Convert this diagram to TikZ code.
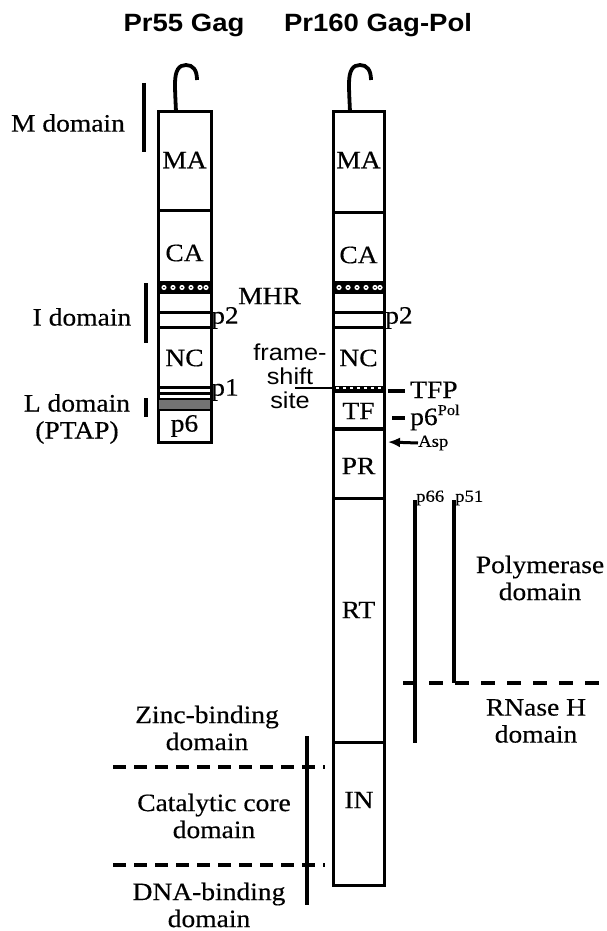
\documentclass[tikz,border=0pt]{standalone}
\usepackage{fontspec}
\setmainfont{Liberation Serif}[FakeStretch=1.1,FakeBold=0.4]
\newfontfamily\sansf{Liberation Sans}[FakeStretch=1.1]
\usetikzlibrary{arrows.meta}
\tikzset{
  lbl/.style={font=\fontsize{25}{27}\selectfont, inner sep=0pt, align=center},
  sml/.style={font=\fontsize{17}{19}\selectfont, inner sep=0pt},
  ttl/.style={font=\sansf\bfseries\fontsize{25}{27}\selectfont, inner sep=0pt},
  fss/.style={font=\sansf\fontsize{23}{24}\selectfont, inner sep=0pt, align=center},
  pbox/.style={draw, line width=3pt, inner sep=0pt, rectangle},
  divl/.style={line width=3pt},
  bar/.style={line width=3.2pt},
  hook/.style={line width=3.8pt},
  dsh/.style={line width=3.2pt, dash pattern=on 13pt off 8pt},
  dshr/.style={line width=3.2pt, dash pattern=on 14pt off 12pt},
}
\begin{document}
\begin{tikzpicture}[x=1pt,y=-1pt]
\useasboundingbox (0,0) rectangle (606,931);
% titles
\node[ttl] (t1) at (184,25) {Pr55 Gag};
\node[ttl] (t2) at (378,25) {Pr160 Gag-Pol};
% main boxes
\node[pbox, minimum width=53pt, minimum height=330pt] (gag) at (184.5,277) {};
\node[pbox, minimum width=51pt, minimum height=773pt] (gp) at (358.5,498.5) {};
% hooks
\draw[hook] (176,112) .. controls (175.5,100) and (175,92) .. (175,84) .. controls (175,70) and (179,65) .. (186,65) .. controls (193,65) and (197,70) .. (197,80);
\draw[hook] (350,112) .. controls (349.5,100) and (349,92) .. (349,84) .. controls (349,70) and (353,65) .. (360,65) .. controls (367,65) and (371,70) .. (371,80);
% Gag dividers
\draw[divl] (158,210) -- (211,210);
\fill (158,281) rectangle (211,294);
\foreach \x in {164,173,182,191,200,206}{\fill[white] (\x,287.5) circle (2.6pt); \fill (\x,287.5) circle (0.8pt);}
\draw[divl] (158,312) -- (211,312);
\draw[divl] (158,327) -- (211,327);
\draw[divl] (158,387) -- (211,387);
\draw[divl] (158,393) -- (211,393);
\filldraw[fill=black!55, line width=2.4pt] (158,399) rectangle (211,410);
% Gag-Pol dividers
\draw[divl] (333,212) -- (384,212);
\fill (333,281) rectangle (384,294);
\foreach \x in {339,348,357,366,375,380}{\fill[white] (\x,287.5) circle (2.6pt); \fill (\x,287.5) circle (0.8pt);}
\draw[divl] (333,312) -- (384,312);
\draw[divl] (333,327) -- (384,327);
\fill (333,386) rectangle (384,393);
\draw[white, line width=2pt, dash pattern=on 3pt off 4pt] (336,388) -- (382,388);
\draw[line width=3.4pt] (333,429) -- (384,429);
\draw[divl] (333,498) -- (384,498);
\draw[divl] (333,742) -- (384,742);
% box labels Gag
\node[lbl] (ma1) at (184.5,160) {MA};
\node[lbl] (ca1) at (184.5,253) {CA};
\node[lbl] (nc1) at (184.5,358) {NC};
\node[lbl] (p61) at (184.5,426) {p6};
% box labels Gag-Pol
\node[lbl] (ma2) at (358.5,160) {MA};
\node[lbl] (ca2) at (358.5,255) {CA};
\node[lbl] (nc2) at (358.5,358) {NC};
\node[lbl] (tf) at (358.5,411) {TF};
\node[lbl] (pr) at (358.5,466) {PR};
\node[lbl] (rt) at (358.5,610) {RT};
\node[lbl] (in) at (359,800) {IN};
% side labels
\node[lbl] (mhr) at (238,296) [anchor=west] {MHR};
\node[lbl] (p2a) at (211,318) [anchor=west] {p2};
\node[lbl] (p1a) at (211,390) [anchor=west] {p1};
\node[lbl] (p2b) at (385,318) [anchor=west] {p2};
% left domain labels and bars
\node[lbl] (mdom) at (68,123) {M domain};
\node[lbl] (idom) at (82,317) {I domain};
\node[lbl] (ldom) at (77,419) {L domain\\(PTAP)};
\coordinate (mb1) at (144,83); \coordinate (mb2) at (144,152);
\coordinate (ib1) at (146,283); \coordinate (ib2) at (146,343);
\coordinate (lb1) at (146,398); \coordinate (lb2) at (146,417);
\draw[bar] (mb1) -- (mb2);
\draw[bar] (ib1) -- (ib2);
\draw[line width=3.8pt] (lb1) -- (lb2);
% frame-shift
\node[fss] (fs) at (290,376) {frame-\\shift\\site};
\coordinate (fs1) at (295,388); \coordinate (fs2) at (332,388);
\draw[line width=2.8pt] (fs1) -- (fs2);
% TFP, p6Pol, Asp
\node[lbl, anchor=base west] (tfp) at (410,398) {TFP};
\node[lbl, anchor=base west] (p6pol) at (410,425) {p6\raisebox{10pt}{\fontsize{15}{15}\selectfont Pol}};
\node[sml, anchor=west] (asp) at (418,443) {Asp};
\coordinate (tfpd) at (388,391);
\coordinate (p6d) at (392,418);
\coordinate (aspt) at (388,442);
\draw[bar] (tfpd) -- ++(17,0);
\draw[bar] (p6d) -- ++(13,0);
\draw[line width=3pt, -{Latex[length=12pt,width=10pt]}] (asp.west) -- (aspt);
% RT subunits
\node[sml, anchor=west] (p66) at (416,498) {p66};
\node[sml, anchor=west] (p51) at (455,498) {p51};
\coordinate (p66a) at (415,500); \coordinate (p66b) at (415,743);
\coordinate (p51a) at (454,500); \coordinate (p51b) at (454,683);
\draw[bar] (p66a) -- (p66b);
\draw[bar] (p51a) -- (p51b);
\coordinate (rd1) at (403,683); \coordinate (rd2) at (606,683);
\draw[dshr] (rd1) -- (rd2);
\node[lbl] (poly) at (540,578) {Polymerase\\domain};
\node[lbl] (rnh) at (536,721) {RNase H\\domain};
% IN domains
\coordinate (inb1) at (307,736); \coordinate (inb2) at (307,905);
\draw[bar] (inb1) -- (inb2);
\coordinate (d1a) at (113,767); \coordinate (d1b) at (325,767);
\coordinate (d2a) at (113,865); \coordinate (d2b) at (325,865);
\draw[dsh] (d1a) -- (d1b);
\draw[dsh] (d2a) -- (d2b);
\node[lbl] (zinc) at (207,728) {Zinc-binding\\domain};
\node[lbl] (cat) at (214,816) {Catalytic core\\domain};
\node[lbl] (dna) at (209,905) {DNA-binding\\domain};
\end{tikzpicture}
\end{document}
